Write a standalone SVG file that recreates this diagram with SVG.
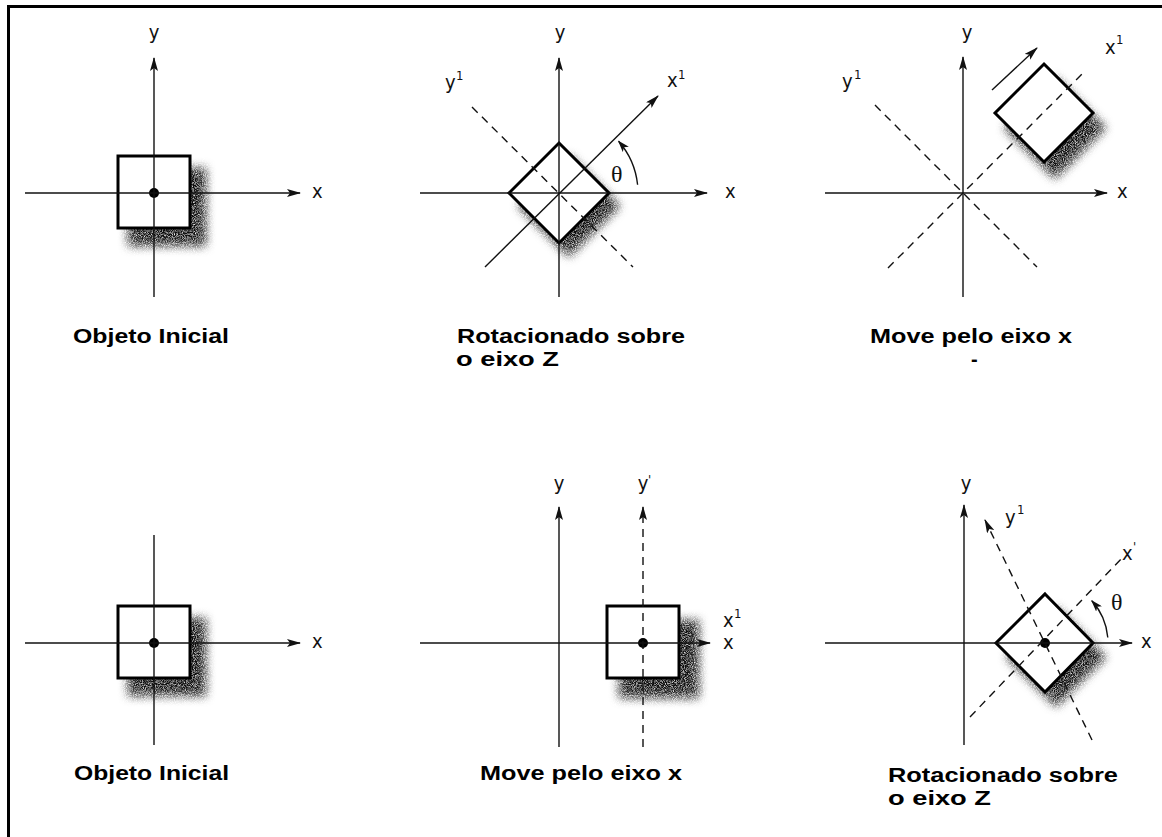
<svg xmlns="http://www.w3.org/2000/svg" width="1162" height="837" viewBox="0 0 1162 837">
<style>
.ax{stroke:#111;stroke-width:1.4;fill:none}
.ds{stroke:#111;stroke-width:1.4;fill:none;stroke-dasharray:8 6}
.obj{stroke:#000;stroke-width:3;fill:#fff;stroke-linejoin:miter}
.sh{fill:#111;filter:url(#blur)}
.lbl{font-family:"Liberation Sans Narrow","DejaVu Sans Condensed","Liberation Sans",sans-serif;font-size:20px;fill:#111}
.sup{font-family:"Liberation Sans Narrow","DejaVu Sans Condensed","Liberation Sans",sans-serif;font-size:13px;fill:#111}
.th{font-family:"Liberation Serif","DejaVu Serif",serif;font-size:24px;fill:#111}
.cap{font-family:"Liberation Sans",Arial,sans-serif;font-weight:bold;font-size:20px;fill:#000}
</style>
<defs>
<marker id="ah" viewBox="0 0 14 8" refX="13" refY="4" markerWidth="14" markerHeight="8" markerUnits="userSpaceOnUse" orient="auto"><path d="M0,0 L14,4 L0,8 L3,4 z" fill="#111"/></marker>
<marker id="ahs" viewBox="0 0 12 8" refX="11" refY="4" markerWidth="12" markerHeight="8" markerUnits="userSpaceOnUse" orient="auto"><path d="M0,0 L12,4 L0,8 L3,4 z" fill="#111"/></marker>
<filter id="blur" x="-50%" y="-50%" width="200%" height="200%">
<feGaussianBlur in="SourceGraphic" stdDeviation="5" result="b"/>
<feTurbulence type="fractalNoise" baseFrequency="1.1" numOctaves="1" seed="4" result="n"/>
<feColorMatrix in="n" type="matrix" values="0 0 0 0 0  0 0 0 0 0  0 0 0 0 0  0 0 0 2.2 -0.35" result="na"/>
<feComposite in="b" in2="na" operator="in"/>
</filter>
</defs>
<rect x="0" y="0" width="1162" height="837" fill="#fff"/>
<g id="frame"><rect x="7" y="5" width="1155" height="3" fill="#000"/><rect x="7" y="5" width="3" height="832" fill="#000"/></g>

<!-- Panel 1 -->
<g id="p1">
<rect class="sh" x="128" y="168" width="78" height="78"/>
<rect class="obj" x="118" y="156" width="72" height="72"/>
<circle cx="154" cy="193" r="5" fill="#000"/>
<text class="lbl" x="154" y="39" text-anchor="middle">y</text>
<text class="lbl" x="312" y="198">x</text>
<text class="cap" x="73" y="343" textLength="156" lengthAdjust="spacingAndGlyphs">Objeto Inicial</text>
</g>
<!-- Panel 2 -->
<g id="p2">
<polygon class="sh" points="569,155 620,206 569,257 518,206"/>
<polygon class="obj" points="559,143 609,193 559,243 509,193"/>
<text class="lbl" x="560" y="39" text-anchor="middle">y</text>
<text class="lbl" x="725" y="198">x</text>
<text class="lbl" x="667" y="87">x</text><text class="sup" x="678" y="79">1</text>
<text class="lbl" x="445" y="89">y</text><text class="sup" x="456" y="80">1</text>
<text class="th" x="611" y="182">θ</text>
<text class="cap" x="457" y="343" textLength="228" lengthAdjust="spacingAndGlyphs">Rotacionado sobre</text>
<text class="cap" x="456" y="366" textLength="103" lengthAdjust="spacingAndGlyphs">o eixo Z</text>
</g>
<!-- Panel 3 -->
<g id="p3">
<polygon class="sh" points="1055,77 1106,128 1055,179 1004,128"/>
<polygon class="obj" points="1044,64 1093,113 1044,162 995,113"/>
<text class="lbl" x="967" y="39" text-anchor="middle">y</text>
<text class="lbl" x="1117" y="198">x</text>
<text class="lbl" x="1105" y="54">x</text><text class="sup" x="1116" y="44">1</text>
<text class="lbl" x="842" y="88">y</text><text class="sup" x="854" y="79">1</text>
<text class="cap" x="870" y="343" textLength="202" lengthAdjust="spacingAndGlyphs">Move pelo eixo x</text>
<text class="cap" x="971" y="366" font-size="12">-</text>
</g>
<!-- Panel 4 -->
<g id="p4">
<rect class="sh" x="128" y="618" width="78" height="78"/>
<rect class="obj" x="118" y="606" width="72" height="72"/>
<circle cx="154" cy="643" r="5" fill="#000"/>
<text class="lbl" x="312" y="648">x</text>
<text class="cap" x="74" y="780" textLength="155" lengthAdjust="spacingAndGlyphs">Objeto Inicial</text>
</g>
<!-- Panel 5 -->
<g id="p5">
<rect class="sh" x="619" y="620" width="80" height="78"/>
<rect class="obj" x="607" y="606" width="72" height="72"/>
<circle cx="643" cy="643" r="5" fill="#000"/>
<text class="lbl" x="559" y="490" text-anchor="middle">y</text>
<text class="lbl" x="643" y="490" text-anchor="middle">y</text><text class="sup" x="648" y="484">'</text>
<text class="lbl" x="723" y="627">x</text><text class="sup" x="734" y="618">1</text>
<text class="lbl" x="723" y="649">x</text>
<text class="cap" x="480" y="780" textLength="202" lengthAdjust="spacingAndGlyphs">Move pelo eixo x</text>
</g>
<!-- Panel 6 -->
<g id="p6">
<polygon class="sh" points="1056,607 1106,657 1056,707 1006,657"/>
<polygon class="obj" points="1045,594 1093,643 1045,692 996,643"/>
<circle cx="1045" cy="643" r="5" fill="#000"/>
<text class="lbl" x="966" y="490" text-anchor="middle">y</text>
<text class="lbl" x="1141" y="648">x</text>
<text class="lbl" x="1005" y="524">y</text><text class="sup" x="1017" y="514">1</text>
<text class="lbl" x="1122" y="560">x</text><text class="sup" x="1133" y="551">'</text>
<text class="th" x="1111" y="610">θ</text>
<text class="cap" x="888" y="782" textLength="230" lengthAdjust="spacingAndGlyphs">Rotacionado sobre</text>
<text class="cap" x="888" y="805" textLength="103" lengthAdjust="spacingAndGlyphs">o eixo Z</text>
</g>

<g id="connectors">
<!-- p1 -->
<line class="ax" x1="154" y1="297" x2="154" y2="58" marker-end="url(#ah)"/>
<line class="ax" x1="25" y1="193" x2="300" y2="193" marker-end="url(#ah)"/>
<!-- p2 -->
<line class="ax" x1="559" y1="297" x2="559" y2="58" marker-end="url(#ah)"/>
<line class="ax" x1="420" y1="193" x2="707" y2="193" marker-end="url(#ah)"/>
<line class="ax" x1="485" y1="267" x2="658" y2="96" marker-end="url(#ah)"/>
<line class="ds" x1="472" y1="107" x2="633" y2="267"/>
<path class="ax" d="M637.6,184.7 A79,79 0 0 0 618.6,141.2" marker-end="url(#ahs)"/>
<!-- p3 -->
<line class="ax" x1="963" y1="297" x2="963" y2="57" marker-end="url(#ah)"/>
<line class="ax" x1="825" y1="193" x2="1107" y2="193" marker-end="url(#ah)"/>
<line class="ds" x1="888" y1="268" x2="1085" y2="71"/>
<line class="ds" x1="875" y1="105" x2="1037" y2="267"/>
<line class="ax" x1="992" y1="90" x2="1037" y2="48" marker-end="url(#ah)"/>
<!-- p4 -->
<line class="ax" x1="154" y1="535" x2="154" y2="745"/>
<line class="ax" x1="25" y1="643" x2="300" y2="643" marker-end="url(#ah)"/>
<!-- p5 -->
<line class="ax" x1="559" y1="747" x2="559" y2="507" marker-end="url(#ah)"/>
<line class="ax" x1="420" y1="643" x2="710" y2="643" marker-end="url(#ah)"/>
<line class="ds" x1="643" y1="747" x2="643" y2="507" marker-end="url(#ah)"/>
<!-- p6 -->
<line class="ax" x1="964" y1="745" x2="964" y2="505" marker-end="url(#ah)"/>
<line class="ax" x1="825" y1="643" x2="1132" y2="643" marker-end="url(#ah)"/>
<line class="ds" x1="1092" y1="740" x2="985" y2="520" marker-end="url(#ah)"/>
<line class="ds" x1="970" y1="717" x2="1122" y2="558"/>
<path class="ax" d="M1107.8,637.5 A63,63 0 0 0 1091.8,600.8" marker-end="url(#ahs)"/>
</g>
</svg>
